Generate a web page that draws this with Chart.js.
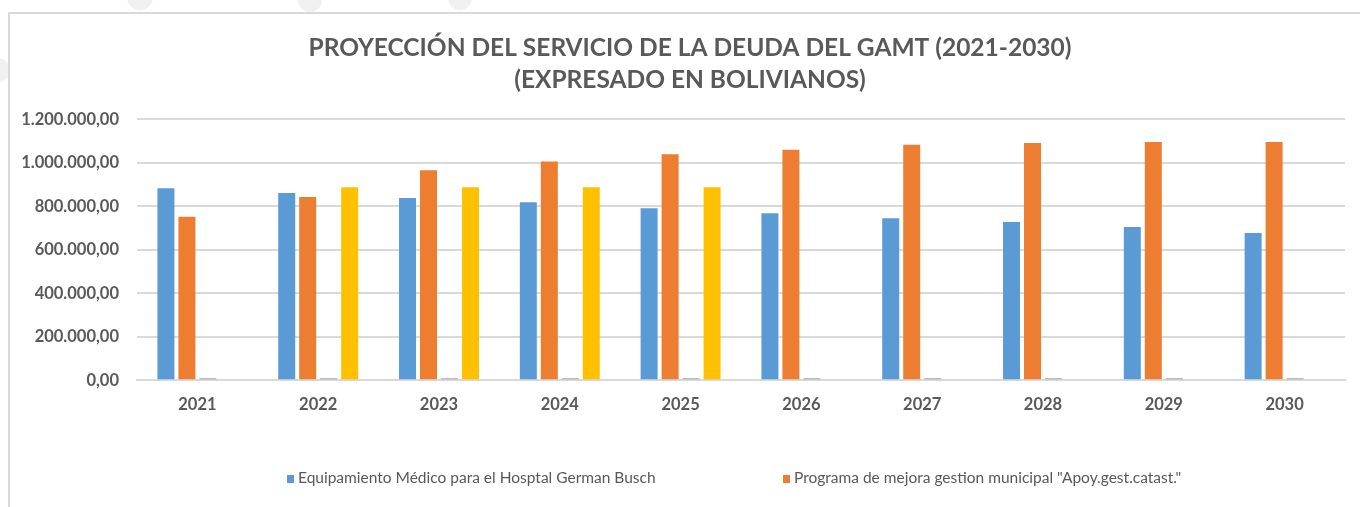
<!DOCTYPE html>
<html lang="es">
<head>
<meta charset="utf-8">
<title>Proyección del servicio de la deuda del GAMT</title>
<script src="https://cdn.jsdelivr.net/npm/chart.js@4.4.1/dist/chart.umd.min.js"></script>
<style>
    html, body { margin: 0; padding: 0; background: #fff; }
    body { width: 1360px; height: 507px; position: relative; overflow: hidden; }
    .deco { position: absolute; border-radius: 50%; background: #f0f0f0; }
    .frame {
        position: absolute; left: 8px; top: 12px; right: -4px; bottom: -4px;
        border-left: 2px solid #d9d9d9; border-top: 2px solid #d9d9d9; background: #fff;
    }
    #chart { position: absolute; left: 0; top: 0; }
    .legend {
        position: absolute; top: 467px; left: 0; width: 1360px; height: 20px;
        font-family: Lato, "Open Sans", sans-serif; font-size: 15.5px; color: #595959;
    }
    .legend span { position: absolute; white-space: nowrap; line-height: 20px; }
    .legend i { display: inline-block; width: 7px; height: 8px; margin-right: 4px; vertical-align: 0px; }
</style>
</head>
<body>
<div class="deco" style="left:127px;top:-16px;width:26px;height:26px"></div>
<div class="deco" style="left:298px;top:-12px;width:24px;height:24px"></div>
<div class="deco" style="left:448px;top:-14px;width:24px;height:24px"></div>
<div class="deco" style="left:-14px;top:58px;width:24px;height:24px"></div>
<div class="frame"></div>
<canvas id="chart" width="1360" height="507"></canvas>
<div class="legend" id="legend"></div>

<script>
// ===== Datos =====
const years = ['2021', '2022', '2023', '2024', '2025', '2026', '2027', '2028', '2029', '2030'];

const seriesNames = [
    'Equipamiento Médico para el Hosptal German Busch',
    'Programa de mejora gestion municipal "Apoy.gest.catast."',
    'Otros créditos',
    'Crédito FNDR'
];

const equipamientoMedico = [882000, 861000, 838000, 818000, 790000, 768000, 745000, 727000, 704000, 677000];
const programaCatastro   = [751000, 842000, 965000, 1005000, 1039000, 1059000, 1082000, 1091000, 1095000, 1095000];
const otrosCreditos      = [9000, 9000, 9000, 9000, 9000, 9000, 9000, 9000, 9000, 9000];
const creditoFndr        = [null, 887000, 887000, 887000, 887000, null, null, null, null, null];

const yTicks = [0, 200000, 400000, 600000, 800000, 1000000, 1200000];

const colors = ['#5B9BD5', '#ED7D31', '#A5A5A5', '#FFC000'];

// formato 1.200.000,00
function formatBs(v) {
    const parts = Math.round(v).toString().replace(/\B(?=(\d{3})+(?!\d))/g, '.');
    return parts + ',00';
}

const font = 'Lato, "Open Sans", sans-serif';

// el título del original está centrado un poco más a la derecha
const shiftTitle = {
    id: 'shiftTitle',
    afterLayout(chart) {
        if (chart.titleBlock) chart.titleBlock.left += 25;
    }
};

const ctx = document.getElementById('chart').getContext('2d');
const chart = new Chart(ctx, {
    type: 'bar',
    data: {
        labels: years,
        datasets: [equipamientoMedico, programaCatastro, otrosCreditos, creditoFndr].map((d, i) => ({
            label: seriesNames[i],
            data: d,
            backgroundColor: colors[i],
            borderWidth: 0,
            categoryPercentage: 0.695,
            barPercentage: 0.81
        }))
    },
    options: {
        responsive: false,
        animation: false,
        layout: { padding: { left: 10, right: 15, top: 32, bottom: 77 } },
        plugins: {
            legend: { display: false },
            tooltip: { enabled: false },
            title: {
                display: true,
                text: ['PROYECCIÓN DEL SERVICIO DE LA DEUDA DEL GAMT (2021-2030)', '(EXPRESADO EN BOLIVIANOS)'],
                color: '#595959',
                font: { family: font, size: 24.5, weight: 'bold', lineHeight: 1.31 },
                padding: { top: 0, bottom: 23 }
            }
        },
        scales: {
            x: {
                grid: { display: false, drawTicks: false },
                border: { display: true, color: '#d9d9d9', width: 2 },
                ticks: { color: '#595959', font: { family: font, size: 16.5, weight: 'bold' }, padding: 15 }
            },
            y: {
                min: 0,
                max: 1200000,
                afterBuildTicks: (scale) => { scale.ticks = yTicks.map(v => ({ value: v })); },
                afterFit: (scale) => { scale.width = 127; },
                grid: { color: '#d9d9d9', lineWidth: 2, drawTicks: false },
                border: { display: false },
                ticks: {
                    color: '#595959',
                    font: { family: font, size: 16.5, weight: 'bold' },
                    padding: 18,
                    callback: (v) => formatBs(v)
                }
            }
        }
    },
    plugins: [shiftTitle]
});

// ===== Leyenda (solo las dos primeras series visibles, como en el original) =====
const legendPos = [287, 783];
const legend = document.getElementById('legend');
legendPos.forEach((x, i) => {
    const s = document.createElement('span');
    s.style.left = x + 'px';
    s.innerHTML = '<i style="background:' + colors[i] + '"></i>';
    s.appendChild(document.createTextNode(seriesNames[i]));
    legend.appendChild(s);
});
</script>
</body>
</html>
